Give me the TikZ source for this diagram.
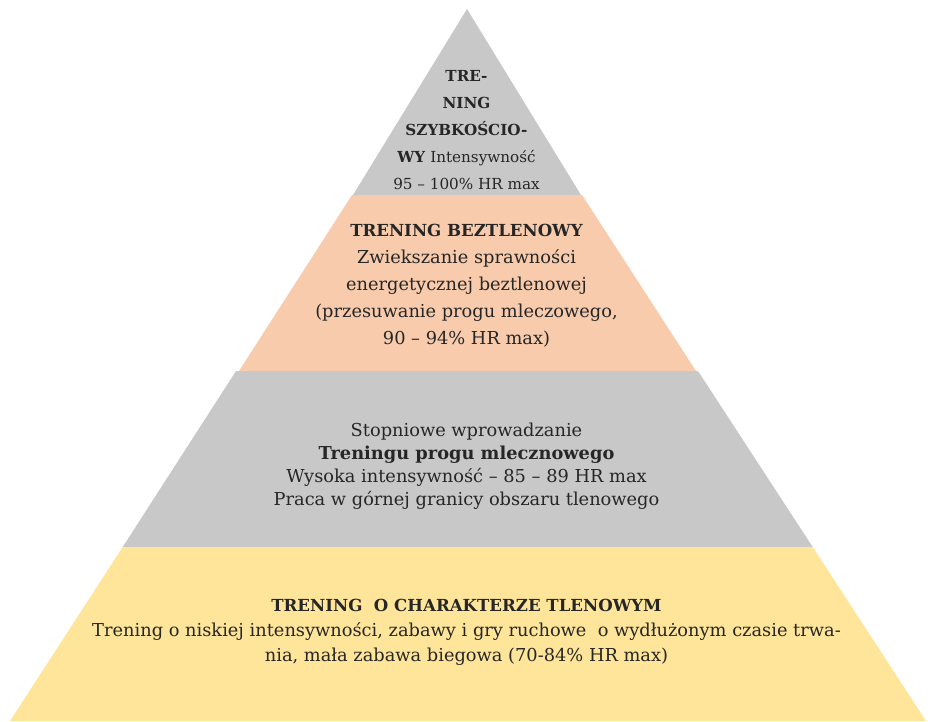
\documentclass[tikz,border=0pt]{standalone}
\usepackage{fontspec}
\setmainfont{DejaVu Serif}
\definecolor{layergray}{HTML}{C8C8C8}
\definecolor{layerpeach}{HTML}{F8CBAD}
\definecolor{layeryellow}{HTML}{FFE599}
\definecolor{ink}{HTML}{262626}
\newcommand{\headline}[1]{{\fontsize{16.6}{25}\selectfont\bfseries #1}}
\tikzset{
  layertext/.style={text=ink, align=center, inner sep=0pt},
  tip/.style={layertext, font=\fontsize{15.2}{27}\selectfont},
  upper/.style={layertext, font=\fontsize{17.8}{27}\selectfont},
  middle/.style={layertext, font=\fontsize{17.8}{23}\selectfont},
  base/.style={layertext, font=\fontsize{17.8}{25}\selectfont},
}
\begin{document}
\begin{tikzpicture}[x=1pt,y=-1pt]
\useasboundingbox (0,0) rectangle (928,721);

% pyramid layers, top to bottom
\fill[layergray]   (467,9) -- (581,195) -- (353,195) -- cycle;
\fill[layerpeach]  (352,195) -- (582,195) -- (696,371) -- (239,371) -- cycle;
\fill[layergray]   (236,371) -- (698,371) -- (812.7,547) -- (122.7,547) -- cycle;
\fill[layeryellow] (122.7,547) -- (812.7,547) -- (926,721) -- (10,721) -- cycle;

% labels
\node[tip] (speed) at (466.5,130)
  {\textbf{TRE-}\\\textbf{NING}\\\textbf{SZYBKOŚCIO-}\\\textbf{WY} Intensywność\\95 – 100\% HR max};
\node[upper] (anaerobic) at (466.5,286)
  {\headline{TRENING BEZTLENOWY}\\Zwiekszanie sprawności\\energetycznej beztlenowej\\(przesuwanie progu mleczowego,\\90 – 94\% HR max)};
\node[middle] (threshold) at (466.5,466)
  {Stopniowe wprowadzanie\\\textbf{Treningu progu mlecznowego}\\Wysoka intensywność – 85 – 89 HR max\\Praca w górnej granicy obszaru tlenowego};
\node[base] (aerobic) at (466.5,632.5)
  {\headline{TRENING\ \ O CHARAKTERZE TLENOWYM}\\Trening o niskiej intensywności, zabawy i gry ruchowe\ \ o wydłużonym czasie trwa-\\nia, mała zabawa biegowa (70-84\% HR max)};
\end{tikzpicture}
\end{document}
